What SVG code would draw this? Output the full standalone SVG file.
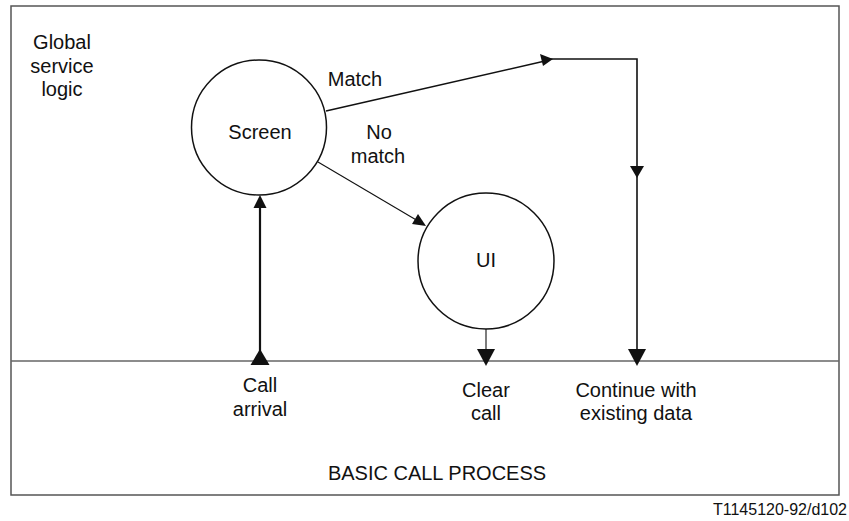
<svg xmlns="http://www.w3.org/2000/svg" width="849" height="521" viewBox="0 0 849 521">
<style>
text{font-family:"Liberation Sans",Arial,sans-serif;font-size:20px;fill:#111;text-anchor:middle}
.node{fill:#fff;stroke:#111;stroke-width:1.5}
.ln{fill:none;stroke:#111}
.head{fill:#111;stroke:none}
.frame{fill:#fff;stroke:#555;stroke-width:1.5}
</style>
<rect x="0" y="0" width="849" height="521" fill="#fff"/>
<rect class="frame" x="11" y="6" width="828" height="489"/>
<line x1="11" y1="361" x2="839" y2="361" stroke="#666" stroke-width="1.5"/>
<g id="labels">
<text x="62" y="49">Global</text>
<text x="62" y="73">service</text>
<text x="62" y="96">logic</text>
<text x="437" y="480">BASIC CALL PROCESS</text>
<text x="780" y="515" style="font-size:16px">T1145120-92/d102</text>
</g>
<g id="connectors">
<polyline class="ln" stroke-width="1.6" points="326,111 545,61"/>
<polyline class="ln" stroke-width="1.6" points="550,59 637,59 637,355"/>
<polygon class="head" points="553,59 540,54 543,66"/>
<polygon class="head" points="637,178 630,166 644,166"/>
<polygon class="head" points="637,366 628,349 646,349"/>
<line class="ln" stroke-width="1.1" x1="318" y1="162" x2="418" y2="221"/>
<polygon class="head" points="426,226 412,224 418,214"/>
<line class="ln" stroke-width="2.2" x1="260" y1="205" x2="260" y2="355"/>
<polygon class="head" points="260,195 253.5,208 266.5,208"/>
<polygon class="head" points="260,349 250.5,365 269.5,365"/>
<line class="ln" stroke-width="1.1" x1="486" y1="329" x2="486" y2="352"/>
<polygon class="head" points="486,366 477,349 495,349"/>
</g>
<g id="screen">
<circle class="node" cx="259" cy="127.5" r="67.5"/>
<text x="260" y="139">Screen</text>
</g>
<g id="ui">
<circle class="node" cx="486" cy="261" r="68"/>
<text x="486" y="267">UI</text>
</g>
<g id="edge-labels">
<text x="355" y="86">Match</text>
<text x="379" y="139">No</text>
<text x="378" y="163">match</text>
<text x="260" y="392">Call</text>
<text x="260" y="416">arrival</text>
<text x="486" y="397">Clear</text>
<text x="486" y="420">call</text>
<text x="636" y="397">Continue with</text>
<text x="636" y="420">existing data</text>
</g>
</svg>
